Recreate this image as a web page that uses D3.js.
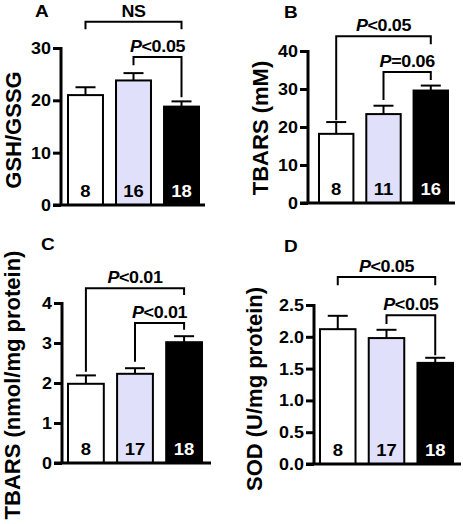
<!DOCTYPE html>
<html>
<head>
<meta charset="utf-8">
<script src="https://cdn.jsdelivr.net/npm/d3@7"></script>
<style>
  html, body { margin: 0; padding: 0; background: #fff; }
  svg { display: block; font-family: "Liberation Sans", Arial, sans-serif; font-weight: bold; }
</style>
</head>
<body>
<svg id="chart" width="463" height="524"></svg>
<script>
// ---------- data ----------
const groupIndex = [0, 1, 2];
const barColors = ["#ffffff", "#e0e0fa", "#000000"];
const numberColors = ["#000000", "#000000", "#ffffff"];

const panelLetters = ["A", "B", "C", "D"];
const yLabels = ["GSH/GSSG", "TBARS (mM)", "TBARS (nmol/mg protein)", "SOD (U/mg protein)"];

const meansA = [21.0, 23.8, 18.8];
const errA   = [1.5, 1.4, 1.0];
const nA     = [8, 16, 18];
const ticksA = [0, 10, 20, 30];

const meansB = [18.2, 23.4, 29.6];
const errB   = [3.1, 2.2, 1.3];
const nB     = [8, 11, 16];
const ticksB = [0, 10, 20, 30, 40];

const meansC = [1.98, 2.23, 3.02];
const errC   = [0.21, 0.14, 0.15];
const nC     = [8, 17, 18];
const ticksC = [0, 1, 2, 3, 4];

const meansD = [2.12, 1.98, 1.59];
const errD   = [0.21, 0.13, 0.08];
const nD     = [8, 17, 18];
const ticksD = [0, 0.5, 1.0, 1.5, 2.0, 2.5];

// significance brackets: from bar, to bar, level of top line, end of left leg, end of right leg (data units)
const bracketsA = [
  { from: 0, to: 2, top: 35.0, left: 33.6, right: 33.6, p: "", label: "NS" },
  { from: 1, to: 2, top: 28.3, left: 26.7, right: 20.6, p: "P", label: "<0.05" }
];
const bracketsB = [
  { from: 0, to: 2, top: 43.9, left: 21.8, right: 41.8, p: "P", label: "<0.05" },
  { from: 1, to: 2, top: 34.5, left: 27.1, right: 32.4, p: "P", label: "=0.06" }
];
const bracketsC = [
  { from: 0, to: 2, top: 4.37, left: 2.28, right: 4.2, p: "P", label: "<0.01" },
  { from: 1, to: 2, top: 3.5, left: 2.53, right: 3.33, p: "P", label: "<0.01" }
];
const bracketsD = [
  { from: 0, to: 2, top: 2.94, left: 2.81, right: 2.81, p: "P", label: "<0.05" },
  { from: 1, to: 2, top: 2.34, left: 2.2, right: 1.71, p: "P", label: "<0.05" }
];

// ---------- layout ----------
const SX = 1.12; // horizontal stretch of the small bold texts
const panels = [
  { means: meansA, err: errA, n: nA, ticks: ticksA, brackets: bracketsA, fmt: d3.format("d"),
    axisX: 61, y0: 205, yTop: 48, bx0: 67, bx1: 200, xEnd: 205, letterX: 35, letterY: 17, labelX: 21, labelY: 130 },
  { means: meansB, err: errB, n: nB, ticks: ticksB, brackets: bracketsB, fmt: d3.format("d"),
    axisX: 308, y0: 203, yTop: 51, bx0: 318, bx1: 449, xEnd: 455, letterX: 284, letterY: 18, labelX: 268, labelY: 128 },
  { means: meansC, err: errC, n: nC, ticks: ticksC, brackets: bracketsC, fmt: d3.format("d"),
    axisX: 62, y0: 463, yTop: 303, bx0: 67, bx1: 203, xEnd: 211, letterX: 41, letterY: 250, labelX: 20, labelY: 385 },
  { means: meansD, err: errD, n: nD, ticks: ticksD, brackets: bracketsD, fmt: d3.format(".1f"),
    axisX: 314, y0: 464, yTop: 305, bx0: 319, bx1: 454, xEnd: 461, letterX: 284, letterY: 252, labelX: 262, labelY: 389 }
];

const svg = d3.select("#chart");

function stretchedText(parent, x, y, size, anchor) {
  return parent.append("text")
    .attr("transform", `translate(${x},${y}) scale(${SX},1)`)
    .attr("text-anchor", anchor).attr("font-size", size);
}

panels.forEach((P, pi) => {
  const maxTick = d3.max(P.ticks);
  const y = d3.scaleLinear().domain([0, maxTick]).range([P.y0, P.yTop]);
  const x = d3.scaleBand().domain(groupIndex).range([P.bx0, P.bx1]).paddingInner(0.23).paddingOuter(0);
  const g = svg.append("g");

  // panel letter
  stretchedText(g, P.letterX, P.letterY, 17, "start").text(panelLetters[pi]);

  // y label
  g.append("text")
    .attr("transform", `translate(${P.labelX},${P.labelY}) rotate(-90)`)
    .attr("text-anchor", "middle").attr("font-size", 22)
    .text(yLabels[pi]);

  // bars
  g.selectAll("rect.bar").data(groupIndex).join("rect")
    .attr("x", i => x(i) + 1).attr("width", x.bandwidth() - 2)
    .attr("y", i => y(P.means[i])).attr("height", i => P.y0 - y(P.means[i]))
    .attr("fill", i => barColors[i]).attr("stroke", "#000").attr("stroke-width", 2);

  // error bars (upper only)
  groupIndex.forEach(i => {
    const cx = x(i) + x.bandwidth() / 2;
    g.append("line").attr("x1", cx).attr("x2", cx)
      .attr("y1", y(P.means[i])).attr("y2", y(P.means[i] + P.err[i]))
      .attr("stroke", "#000").attr("stroke-width", 2);
    g.append("line").attr("x1", cx - 10).attr("x2", cx + 10)
      .attr("y1", y(P.means[i] + P.err[i])).attr("y2", y(P.means[i] + P.err[i]))
      .attr("stroke", "#000").attr("stroke-width", 2);
  });

  // n labels
  groupIndex.forEach(i => {
    stretchedText(g, x(i) + x.bandwidth() / 2, P.y0 - 8, 16.5, "middle")
      .attr("fill", numberColors[i]).text(P.n[i]);
  });

  // y axis
  const yAxis = d3.axisLeft(y).tickValues(P.ticks).tickFormat(P.fmt).tickSize(8).tickPadding(2);
  const ya = g.append("g").attr("transform", `translate(${P.axisX},0)`).call(yAxis);
  ya.select(".domain").attr("stroke-width", 3).attr("d", `M0,${P.yTop - 1}V${P.y0}`);
  ya.selectAll(".tick line").attr("stroke-width", 3);
  ya.selectAll(".tick text")
    .attr("x", null).attr("dy", null)
    .attr("transform", `translate(-10,5.5) scale(${SX},1)`)
    .attr("font-size", 16).attr("font-weight", "bold")
    .attr("font-family", "Liberation Sans, Arial, sans-serif").attr("fill", "#000");

  // x axis baseline
  g.append("line").attr("x1", P.axisX - 8).attr("x2", P.xEnd)
    .attr("y1", P.y0).attr("y2", P.y0).attr("stroke", "#000").attr("stroke-width", 3);

  // brackets
  P.brackets.forEach(b => {
    const xl = x(b.from) + x.bandwidth() / 2;
    const xr = x(b.to) + x.bandwidth() / 2;
    const path = d3.path();
    path.moveTo(xl, y(b.left));
    path.lineTo(xl, y(b.top));
    path.lineTo(xr, y(b.top));
    path.lineTo(xr, y(b.right));
    g.append("path").attr("d", path.toString()).attr("fill", "none")
      .attr("stroke", "#000").attr("stroke-width", 2);
    const t = stretchedText(g, (xl + xr) / 2, y(b.top) - 5, 16, "middle")
      .attr("letter-spacing", -0.3);
    if (b.p) t.append("tspan").attr("font-style", "italic").text(b.p);
    t.append("tspan").text(b.label);
  });
});
</script>
</body>
</html>
